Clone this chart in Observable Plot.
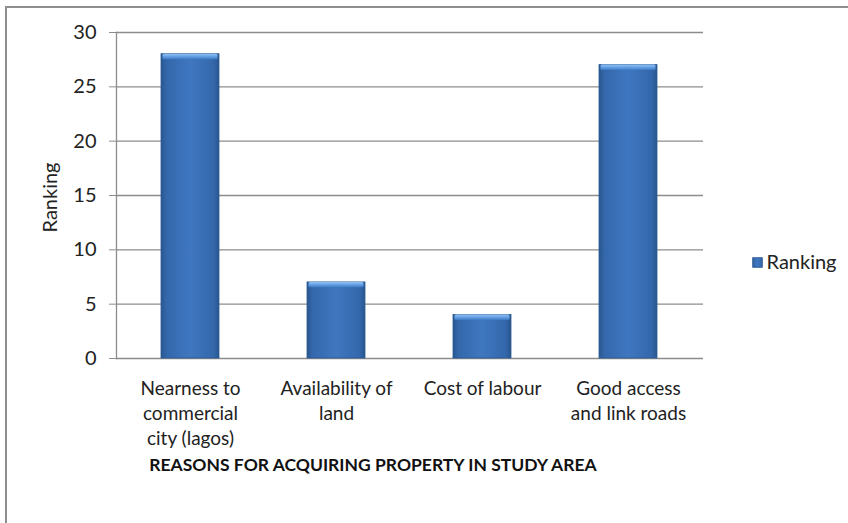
<!DOCTYPE html>
<html>
<head>
<meta charset="utf-8">
<script src="https://cdn.jsdelivr.net/npm/d3@7"></script>
<script src="https://cdn.jsdelivr.net/npm/@observablehq/plot@0.6"></script>
<style>
  html, body { margin: 0; padding: 0; background: #fff; }
  #wrap { position: relative; width: 848px; height: 523px; overflow: hidden; }
  #border { position: absolute; left: 5px; top: 6px; right: -2px; bottom: -2px;
            border-top: 2px solid #8f8f8f; border-left: 2px solid #8f8f8f; }
  #chart { position: absolute; left: 0; top: 0; }
</style>
</head>
<body>
<div id="wrap"><div id="border"></div><div id="chart"></div></div>
<script>
const categories = [
  "Nearness to\ncommercial\ncity (lagos)",
  "Availability of\nland",
  "Cost of labour",
  "Good access\nand link roads"
];
const values = [28, 7, 4, 27];
const yTicks = [0, 5, 10, 15, 20, 25, 30];
const seriesName = "Ranking";
const yLabel = "Ranking";
const xTitle = "REASONS FOR ACQUIRING PROPERTY IN STUDY AREA";

const data = categories.map((c, i) => ({cat: c, value: values[i]}));
const font = "Lato, 'Open Sans', sans-serif";

const chart = Plot.plot({
  width: 848,
  height: 523,
  marginLeft: 116,
  marginRight: 145,
  marginTop: 32,
  marginBottom: 165,
  style: {fontFamily: font, fontSize: "19px", color: "#222", background: "transparent"},
  x: {domain: categories, paddingInner: 0.6, paddingOuter: 0.3, label: null},
  y: {domain: [0, 30], ticks: yTicks, label: null},
  marks: [
    Plot.ruleY(yTicks, {stroke: "#8c8c8c", strokeWidth: 1.3}),
    Plot.frame({anchor: "left", stroke: "#8c8c8c", strokeWidth: 1.3}),
    Plot.axisY({ticks: yTicks, tickSize: 7, tickPadding: 13, stroke: "#8c8c8c", fontSize: 20, label: null}),
    Plot.axisX({tickSize: 0, tickPadding: 19, fontSize: 19, lineHeight: 1.31, label: null}),
    Plot.barY(data, {x: "cat", y: "value", fill: "url(#barGrad)", stroke: "#2c5a92", strokeWidth: 0.8}),
    Plot.barY(data, {x: "cat", y1: d => d.value - 0.5, y2: "value", fill: "url(#capGrad)", insetLeft: 1.5, insetRight: 1.5, rx: 1.5}),
    Plot.text([yLabel], {frameAnchor: "left", textAnchor: "middle", rotate: -90, dx: -66, dy: 2, fontSize: 20, fill: "#222"}),
    Plot.text([xTitle], {frameAnchor: "bottom", dx: -37, dy: 112, fontSize: 17.5, fontWeight: "bold", fill: "#111"}),
    Plot.text([seriesName], {frameAnchor: "right", dx: 63, dy: 67, textAnchor: "start", fontSize: 20, fill: "#222"}),
    Plot.dot([seriesName], {frameAnchor: "right", dx: 54, dy: 67, symbol: "square", r: 5.5, fill: "url(#barGrad)", stroke: "#2c5a92", strokeWidth: 0.8})
  ]
});

const svg = d3.select(chart);
const defs = svg.insert("defs", ":first-child");
const g1 = defs.append("linearGradient").attr("id", "barGrad").attr("x1", "0%").attr("x2", "100%").attr("y1", "0%").attr("y2", "0%");
[["0%", "#2a5690"], ["10%", "#3468ac"], ["50%", "#3f77c0"], ["90%", "#3468ac"], ["100%", "#2a5690"]]
  .forEach(([o, c]) => g1.append("stop").attr("offset", o).attr("stop-color", c));
const g2 = defs.append("linearGradient").attr("id", "capGrad").attr("x1", "0%").attr("x2", "0%").attr("y1", "0%").attr("y2", "100%");
[["0%", "#94c2f4"], ["50%", "#64a0e4"], ["100%", "#4079c2"]]
  .forEach(([o, c]) => g2.append("stop").attr("offset", o).attr("stop-color", c));

document.getElementById("chart").appendChild(chart);
</script>
</body>
</html>
